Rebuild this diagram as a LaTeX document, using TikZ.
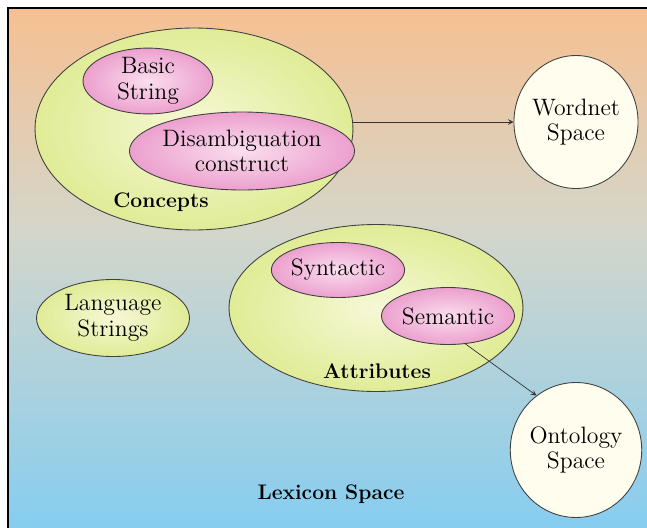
\documentclass[tikz,border=0pt]{standalone}
\usepackage{tikz}
\usetikzlibrary{positioning,shapes.geometric}
\definecolor{peach}{RGB}{246,192,146}
\definecolor{greymid}{RGB}{212,214,202}
\definecolor{skyblue}{RGB}{134,205,240}
\definecolor{limefill}{RGB}{224,236,150}
\definecolor{limelight}{RGB}{246,248,214}
\definecolor{pinkfill}{RGB}{236,160,206}
\definecolor{pinklight}{RGB}{250,222,238}
\definecolor{creamfill}{RGB}{255,253,238}
\tikzset{
  blob/.style={ellipse, draw=black!75, line width=0.5pt, inner sep=0pt, align=center,
    font=\fontsize{13.5}{14.5}\selectfont},
  group/.style={blob, inner color=limelight, outer color=limefill},
  part/.style={blob, inner color=pinklight, outer color=pinkfill},
  space/.style={blob, fill=creamfill},
  caption/.style={font=\fontsize{12}{14}\selectfont\bfseries}
}

\begin{document}
\begin{tikzpicture}[x=0.02cm, y=-0.02cm]
  \useasboundingbox (0,0) rectangle (647,528);
  \fill[white] (0,0) rectangle (647,528);
  \shade[top color=peach, bottom color=greymid] (8,8) rectangle (647,230.5);
  \shade[top color=greymid, bottom color=skyblue] (8,230) rectangle (647,528);
  \draw[line width=0.7pt] (8,528) -- (8,8) -- (647,8);

  % lexicon groups
  \node[group, minimum width=6.36cm, minimum height=4.04cm] (concepts) at (194,129) {};
  \node[part, minimum width=2.6cm, minimum height=1.24cm] (basic) at (148,81) {Basic\\String};
  \node[part, minimum width=4cm, minimum height=1.56cm] (disamb) at (242,151) {Disambiguation\\construct};
  \node[caption] (conceptslabel) at (161,202) {Concepts};

  \node[group, minimum width=3.06cm, minimum height=1.54cm] (lang) at (113,318) {Language\\Strings};

  \node[group, minimum width=5.88cm, minimum height=3.34cm] (attributes) at (376,308) {};
  \node[part, minimum width=2.66cm, minimum height=1.1cm] (syntactic) at (338,270) {Syntactic};
  \node[part, minimum width=2.66cm, minimum height=1.14cm] (semantic) at (448,316) {Semantic};
  \node[caption] (attributeslabel) at (377,371) {Attributes};

  % external spaces
  \node[space, minimum width=2.36cm, minimum height=2.66cm] (wordnet) at (576,122) {Wordnet\\Space};
  \node[space, minimum width=2.36cm, minimum height=2.7cm] (ontology) at (576,450) {Ontology\\Space};

  \node[caption] (lexicon) at (331,494) {Lexicon Space};

  \draw[->, >=stealth, black!80] (concepts.east |- 0,122) -- (wordnet.west |- 0,122);
  \draw[->, >=stealth, black!80] (semantic.-58) -- (ontology.126);
\end{tikzpicture}
\end{document}
